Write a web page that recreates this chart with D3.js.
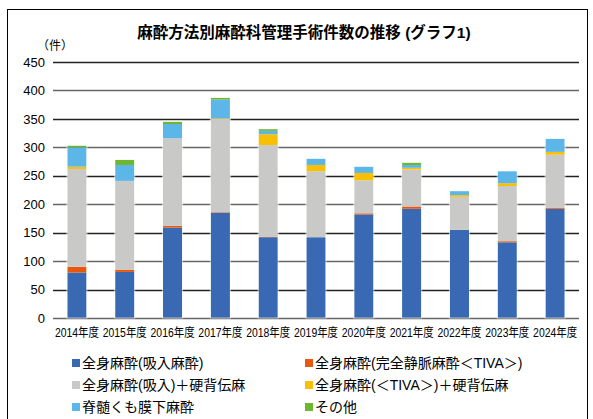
<!DOCTYPE html>
<html>
<head>
<meta charset="utf-8">
<script src="https://d3js.org/d3.v7.min.js"></script>
<style>
  body {margin: 0; background: #fff;}
  svg text {font-family: "Liberation Sans", Arial, "Noto Sans CJK JP", sans-serif;}
</style>
</head>
<body>
<svg id="chart" width="593" height="419"></svg>
<script>
// data
var years = ["2014年度","2015年度","2016年度","2017年度","2018年度","2019年度","2020年度","2021年度","2022年度","2023年度","2024年度"];
var seriesNames = ["全身麻酔(吸入麻酔)","全身麻酔(完全静脈麻酔＜TIVA＞)","全身麻酔(吸入)＋硬背伝麻","全身麻酔(＜TIVA＞)＋硬背伝麻","脊髄くも膜下麻酔","その他"];
var inhal   = [80, 81, 159, 185, 142, 142, 182, 192, 155, 133, 192];
var tiva    = [10, 4, 3, 1, 1, 0, 2, 4, 0, 2, 2];
var inhalEp = [172, 156, 154, 164, 161, 116, 58, 65, 58, 97, 93];
var tivaEp  = [4, 0, 0, 1, 19, 11, 13, 3, 3, 5, 5];
var spinal  = [34, 28, 25, 33, 6, 11, 11, 5, 7, 21, 23];
var other   = [3, 9, 4, 3, 3, 0, 0, 4, 0, 0, 0];
var yTicks  = [0, 50, 100, 150, 200, 250, 300, 350, 400, 450];
var colors  = ["#3869b2", "#e8580c", "#c9cac8", "#f8bf05", "#5cb6e8", "#6db62e"];

var allSeries = [inhal, tiva, inhalEp, tivaEp, spinal, other];
var keys = d3.range(seriesNames.length);
var rows = years.map(function(y, i) {
  var r = {year: y};
  keys.forEach(function(k) { r[k] = allSeries[k][i]; });
  return r;
});

var svg = d3.select("#chart");
var margin = {top: 62, left: 53, right: 14, bottom: 101};
var width = 593 - margin.left - margin.right,
    height = 419 - margin.top - margin.bottom;

// outer frame
svg.append("rect")
  .attr("x", 7.5).attr("y", 9.5)
  .attr("width", 580).attr("height", 430)
  .attr("fill", "none").attr("stroke", "#000").attr("stroke-width", 1);

svg.append("text")
  .attr("x", 304).attr("y", 38)
  .attr("text-anchor", "middle")
  .attr("font-size", "15.5px").attr("font-weight", "bold")
  .text("麻酔方法別麻酔科管理手術件数の推移 (グラフ1)");

svg.append("text")
  .attr("x", 37).attr("y", 50)
  .attr("font-size", "12px")
  .text("（件）");

var g = svg.append("g").attr("transform", "translate(" + margin.left + "," + margin.top + ")");

var x = d3.scaleBand().domain(years).range([0, width]).paddingInner(0.6).paddingOuter(0.3);
var y = d3.scaleLinear().domain([0, 450]).range([height, 0]);

// gridlines
g.append("g")
  .selectAll("line")
  .data(yTicks)
  .enter().append("line")
  .attr("x1", 0).attr("x2", width)
  .attr("y1", function(d) { return Math.round(y(d)) + 0.5; })
  .attr("y2", function(d) { return Math.round(y(d)) + 0.5; })
  .attr("stroke", function(d, i) { return i % 2 ? "#222" : "#666"; })
  .attr("stroke-width", 1.3);

var yAxis = g.append("g")
  .call(d3.axisLeft(y).tickValues(yTicks).tickSize(0).tickPadding(8));
yAxis.select(".domain").remove();
yAxis.selectAll("text").attr("font-size", "13px").attr("fill", "#000")
  .attr("font-family", "Liberation Sans, Arial, sans-serif");

var stack = d3.stack().keys(keys);
var layers = stack(rows);

g.append("g")
  .selectAll("g")
  .data(layers)
  .enter().append("g")
  .attr("fill", function(d) { return colors[d.key]; })
  .selectAll("rect")
  .data(function(d) { return d; })
  .enter().append("rect")
  .attr("x", function(d) { return x(d.data.year); })
  .attr("y", function(d) { return y(d[1]); })
  .attr("width", x.bandwidth())
  .attr("height", function(d) { return y(d[0]) - y(d[1]); });

// light outline round each bar
g.append("g")
  .selectAll("rect")
  .data(rows)
  .enter().append("rect")
  .attr("x", function(d) { return x(d.year) - 0.5; })
  .attr("y", function(d) { return y(d3.sum(keys, function(k) { return d[k]; })) - 0.5; })
  .attr("width", x.bandwidth() + 1)
  .attr("height", function(d) { return height - y(d3.sum(keys, function(k) { return d[k]; })) + 0.5; })
  .attr("fill", "none").attr("stroke", "rgba(255,255,255,0.6)").attr("stroke-width", 1);

var xAxis = g.append("g")
  .attr("transform", "translate(0," + height + ")")
  .call(d3.axisBottom(x).tickSize(0).tickPadding(10));
xAxis.select(".domain").remove();
xAxis.selectAll("text")
  .attr("fill", "#000")
  .attr("font-size", "12.5px")
  .attr("font-family", "Liberation Sans, Arial, Noto Sans CJK JP, sans-serif")
  .attr("textLength", 44)
  .attr("lengthAdjust", "spacingAndGlyphs");

// legend
var legend = svg.append("g")
  .selectAll("g")
  .data(keys)
  .enter().append("g")
  .attr("transform", function(d) {
    return "translate(" + (d % 2 ? 305 : 72) + "," + (363 + Math.floor(d / 2) * 22) + ")";
  });

legend.append("rect")
  .attr("x", 0).attr("y", -4)
  .attr("width", 8).attr("height", 8)
  .attr("fill", function(d) { return colors[d]; });

legend.append("text")
  .attr("x", 10).attr("y", 0)
  .attr("dy", "0.35em")
  .attr("font-size", "14px")
  .attr("font-family", "Noto Sans CJK JP, sans-serif")
  .text(function(d) { return seriesNames[d]; });
</script>
</body>
</html>
